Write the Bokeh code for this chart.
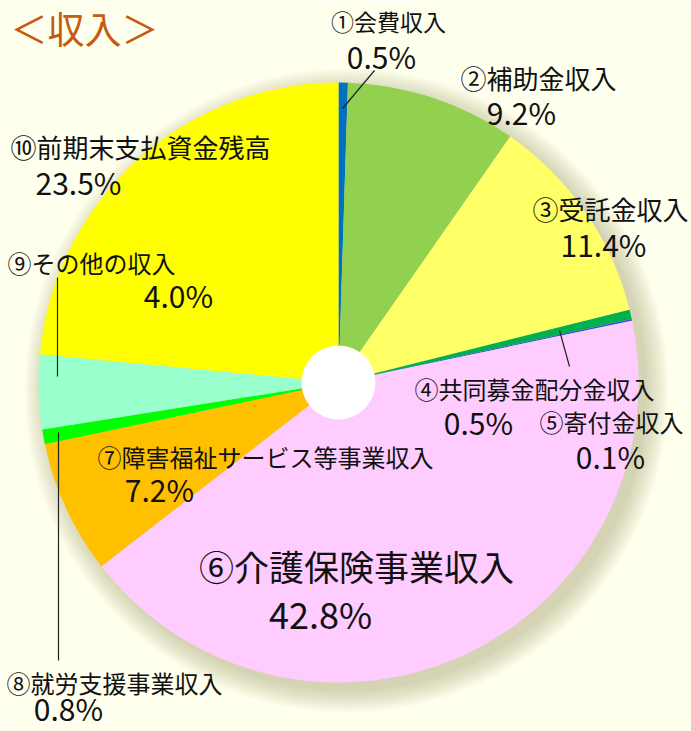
import numpy as np
from bokeh.plotting import figure
from bokeh.models import Range1d, ColumnDataSource
from bokeh.core.properties import value
from bokeh.embed import file_html
from bokeh.resources import INLINE

# ---- data ----
categories = ["①会費収入", "②補助金収入", "③受託金収入", "④共同募金配分金収入", "⑤寄付金収入",
              "⑥介護保険事業収入", "⑦障害福祉サービス等事業収入", "⑧就労支援事業収入",
              "⑨その他の収入", "⑩前期末支払資金残高"]
percents = [0.5, 9.2, 11.4, 0.5, 0.1, 42.8, 7.2, 0.8, 4.0, 23.5]
pct_labels = ["0.5%", "9.2%", "11.4%", "0.5%", "0.1%", "42.8%", "7.2%", "0.8%", "4.0%", "23.5%"]
title_text = "＜収入＞"

# ---- styles / layout ----
colors = ["#0070C0", "#92D050", "#FFFF66", "#00B050", "#3355DD",
          "#FFCCFF", "#FFC000", "#00FF00", "#99FFCC", "#FFFF00"]
BG = "#FFFFEE"
W, H = 691, 731
CX, CY = 338, 382          # pie center in pixel coords (from top-left)
R, R_HOLE = 300, 37

def px(x):
    return x - CX

def py(y):
    return CY - y

# label positions (pixel coords) and font sizes
name_pos = [(388, 20), (538, 77), (610, 208), (534, 388), (611, 421),
            (356, 565), (265, 456), (114, 682), (91, 262), (140, 146)]
name_size = [23, 26, 26, 24, 24, 35, 24, 24, 24, 26]
pct_pos = [(381, 55), (521, 111), (603, 243), (478, 421), (610, 455),
           (320, 612), (159, 488), (68, 707), (178, 294), (78, 181)]
pct_size = [30, 30, 30, 30, 30, 36, 30, 30, 30, 30]
leaders = [((342, 108), (374, 70)), ((559, 330), (569, 366)),
           ((57, 277), (57, 376)), ((58, 432), (58, 660))]

p = figure(width=W, height=H, output_backend="svg", toolbar_location=None,
           x_range=Range1d(px(0), px(W)), y_range=Range1d(py(H), py(0)),
           min_border=0, match_aspect=False)
p.axis.visible = False
p.grid.visible = False
p.outline_line_color = None
p.background_fill_color = BG
p.border_fill_color = BG

# soft shadow
for k in range(12):
    rr = R + 22 - k * 2
    p.circle(x=[8], y=[-8], radius=rr, fill_color="#8a8a60", fill_alpha=0.035,
             line_color=None)

# wedges
frac = np.array(percents) / sum(percents)
cum = np.concatenate([[0], np.cumsum(frac)])
start = np.pi / 2 - 2 * np.pi * cum[:-1]
end = np.pi / 2 - 2 * np.pi * cum[1:]
src = ColumnDataSource(dict(start=start, end=end, color=colors))
p.wedge(x=0, y=0, radius=R, start_angle="start", end_angle="end", direction="clock",
        fill_color="color", line_color=None, source=src)
p.circle(x=[0], y=[0], radius=R_HOLE, fill_color="white", line_color=None)

# leader lines
for (a, b) in leaders:
    p.segment(x0=[px(a[0])], y0=[py(a[1])], x1=[px(b[0])], y1=[py(b[1])],
              line_color="#222222", line_width=1.2)

font = value("Noto Sans CJK JP")
for i in range(len(categories)):
    p.text(x=[px(name_pos[i][0])], y=[py(name_pos[i][1])], text=[categories[i]],
           text_font=font, text_font_size=f"{name_size[i]}px", text_align="center",
           text_baseline="middle", text_color="#111111")
    p.text(x=[px(pct_pos[i][0])], y=[py(pct_pos[i][1])], text=[pct_labels[i]],
           text_font=font, text_font_size=f"{pct_size[i]}px", text_align="center",
           text_baseline="middle", text_color="#111111")

p.text(x=[px(84)], y=[py(27)], text=[title_text], text_font=font, text_font_size="37px",
       text_align="center", text_baseline="middle", text_color="#C55A11")

open("out.html", "w").write(file_html(p, INLINE))
